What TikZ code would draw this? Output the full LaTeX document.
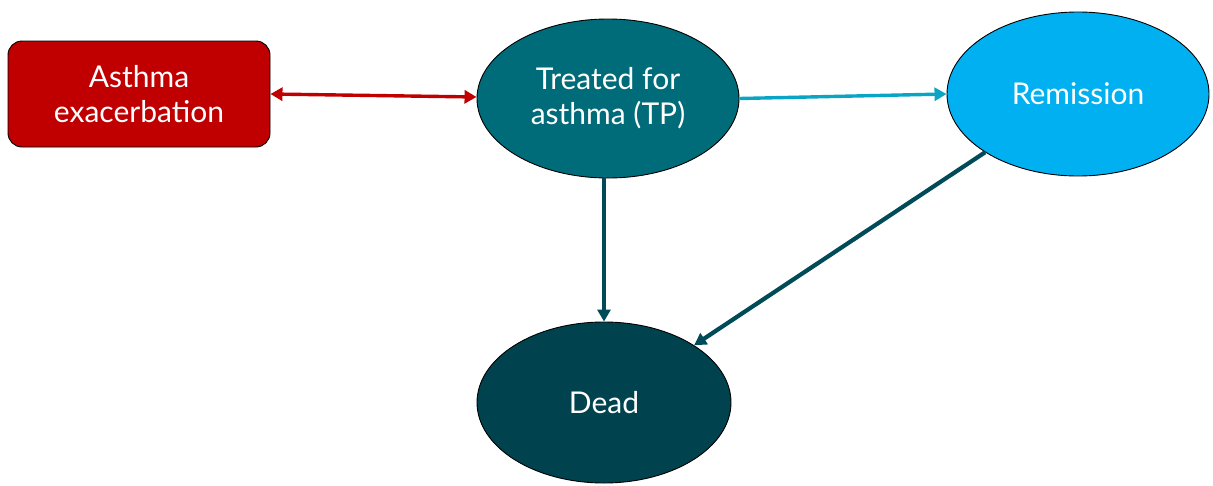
\documentclass[tikz,border=0pt]{standalone}
\usepackage{fontspec}
\setmainfont{Lato}
\usetikzlibrary{shapes.geometric,arrows.meta}
\definecolor{exred}{HTML}{C00000}
\definecolor{treatteal}{HTML}{006B79}
\definecolor{remblue}{HTML}{00B0F0}
\definecolor{deadteal}{HTML}{00434F}
\definecolor{linkcyan}{HTML}{0AA5C4}
\definecolor{linkdark}{HTML}{004B57}
\tikzset{
  state/.style={ellipse, draw=black, line width=0.9pt, text=white,
    font=\fontsize{30}{35}\selectfont, align=center, inner sep=0pt},
  redbox/.style={rectangle, rounded corners=14pt, draw=black, line width=0.9pt,
    fill=exred, text=white, font=\fontsize{30}{35}\selectfont, align=center},
  link/.style={>={Triangle[length=12pt,width=13pt]}},
}
\begin{document}
\begin{tikzpicture}[x=1pt,y=-1pt]
\useasboundingbox (0,0) rectangle (1213,485);
\node[redbox, minimum width=262pt, minimum height=106pt] (ex) at (139,94) {Asthma\\exacerbation};
\node[state, fill=treatteal, minimum width=262pt, minimum height=159pt] (tp) at (608,98.5) {Treated for\\asthma (TP)};
\node[state, fill=remblue, minimum width=262pt, minimum height=164pt] (rem) at (1078,94) {Remission};
\node[state, fill=deadteal, minimum width=254pt, minimum height=161pt] (dead) at (604,402.5) {Dead};
\coordinate (exR) at (271,94);
\coordinate (tpL) at (477,97);
\draw[link, exred, line width=3.4pt, <->] (ex.east |- exR) -- (tp.west |- tpL);
\draw[link, linkcyan, line width=3.4pt, ->] (tp.east) -- (rem.west);
\draw[link, linkdark, line width=4.2pt, ->] (tp.south -| dead.north) -- (dead.north);
\draw[link, linkdark, line width=4.2pt, ->] (rem.south west) -- (dead.north east);
\end{tikzpicture}
\end{document}
